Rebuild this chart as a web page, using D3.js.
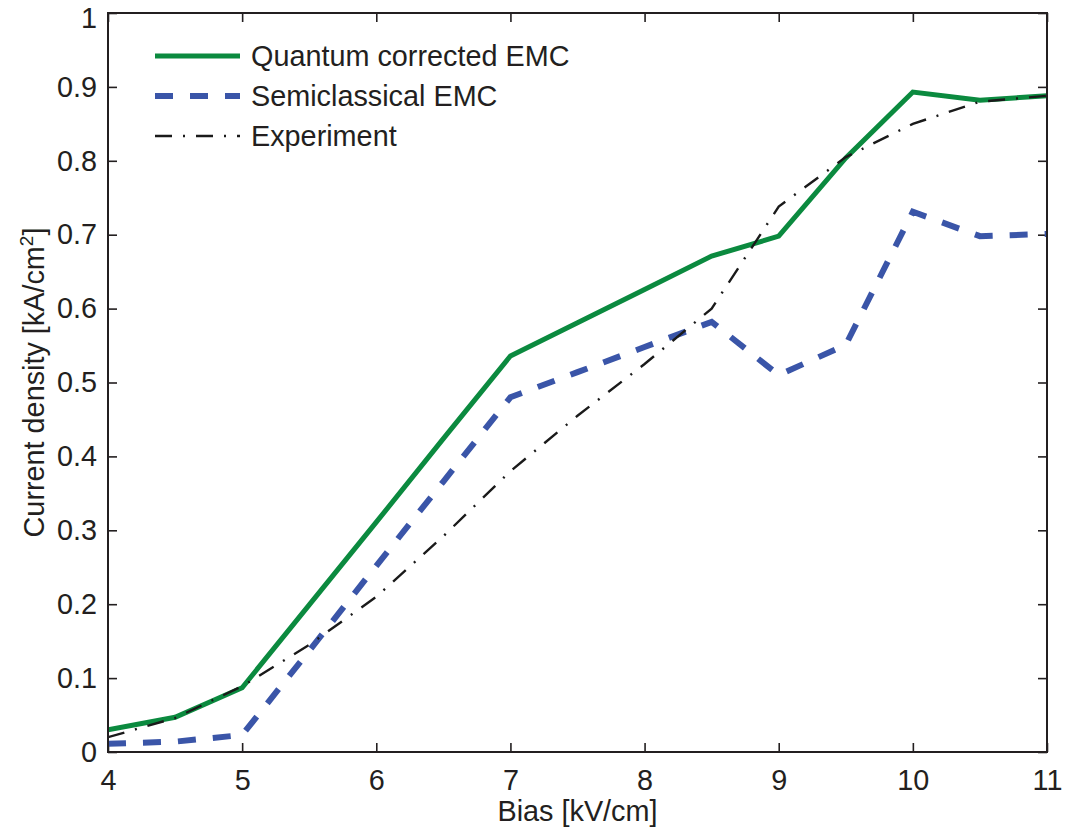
<!DOCTYPE html>
<html>
<head>
<meta charset="utf-8">
<script src="https://cdn.jsdelivr.net/npm/d3@7"></script>
<style>
  body { margin: 0; background: #fff; }
  svg { display: block; }
  text { font-family: "Liberation Sans", Arial, Helvetica, sans-serif; fill: #231f20; }
</style>
</head>
<body>
<svg id="chart" width="1069" height="832"></svg>
<script>
// Bias points [kV/cm]
const bias = [4, 4.5, 5, 5.5, 6, 6.5, 7, 7.5, 8, 8.5, 9, 9.5, 10, 10.5, 11];
// Current density [kA/cm^2]
const quantumEMC = [0.030, 0.047, 0.087, 0.199, 0.311, 0.424, 0.536, 0.581, 0.626, 0.671, 0.698, 0.804, 0.893, 0.882, 0.888];
const semiclassicalEMC = [0.011, 0.014, 0.023, 0.137, 0.252, 0.366, 0.480, 0.514, 0.548, 0.582, 0.510, 0.551, 0.731, 0.698, 0.701];
const experiment = [0.020, 0.046, 0.089, 0.145, 0.210, 0.292, 0.380, 0.455, 0.525, 0.600, 0.738, 0.805, 0.850, 0.880, 0.888];

const xTicks = [4, 5, 6, 7, 8, 9, 10, 11];
const yTicks = [0, 0.1, 0.2, 0.3, 0.4, 0.5, 0.6, 0.7, 0.8, 0.9, 1];

const seriesList = [
  { name: "Quantum corrected EMC", values: quantumEMC, color: "#0b8a3f", width: 5, dash: null },
  { name: "Semiclassical EMC", values: semiclassicalEMC, color: "#3a55a8", width: 6, dash: "18,17" },
  { name: "Experiment", values: experiment, color: "#1a1a1a", width: 2.4, dash: "17,11,2,11" }
];

const FS = 28.8;
const svg = d3.select("#chart");
const m = { left: 108, right: 1069 - 1047, top: 13, bottom: 832 - 752 };
const W = 1069 - m.left - m.right;
const H = 832 - m.top - m.bottom;

const x = d3.scaleLinear().domain([4, 11]).range([m.left, m.left + W]);
const y = d3.scaleLinear().domain([0, 1]).range([m.top + H, m.top]);

const tickLen = 9;
const fmtY = d => (d === 0 || d === 1) ? String(d) : d3.format(".1f")(d);

// axes with inward ticks on all four sides
const gx = svg.append("g").attr("transform", `translate(0,${m.top + H})`)
  .call(d3.axisBottom(x).tickValues(xTicks).tickSizeInner(-tickLen).tickSizeOuter(0).tickPadding(18).tickFormat(d3.format("d")));
const gxTop = svg.append("g").attr("transform", `translate(0,${m.top})`)
  .call(d3.axisTop(x).tickValues(xTicks).tickSizeInner(-tickLen).tickSizeOuter(0).tickFormat(""));
const gy = svg.append("g").attr("transform", `translate(${m.left},0)`)
  .call(d3.axisLeft(y).tickValues(yTicks).tickSizeInner(-tickLen).tickSizeOuter(0).tickPadding(11).tickFormat(fmtY));
const gyR = svg.append("g").attr("transform", `translate(${m.left + W},0)`)
  .call(d3.axisRight(y).tickValues(yTicks).tickSizeInner(-tickLen).tickSizeOuter(0).tickFormat(""));

[gx, gxTop, gy, gyR].forEach(g => {
  g.select(".domain").remove();
  g.selectAll(".tick line").attr("stroke", "#231f20").attr("stroke-width", 1.6);
  g.selectAll(".tick text").style("font-size", FS + "px").attr("fill", "#231f20");
});
gy.selectAll(".tick text").filter(d => d === 1).attr("dy", "0.5em");

// data lines
const line = d3.line().x((d, i) => x(bias[i])).y(d => y(d));
svg.append("clipPath").attr("id", "clip").append("rect")
  .attr("x", m.left).attr("y", m.top).attr("width", W).attr("height", H);
const lines = svg.append("g").attr("clip-path", "url(#clip)");
seriesList.forEach(s => {
  lines.append("path")
    .attr("d", line(s.values))
    .attr("fill", "none")
    .attr("stroke", s.color)
    .attr("stroke-width", s.width)
    .attr("stroke-dasharray", s.dash)
    .attr("stroke-linejoin", "miter");
});

// frame
svg.append("rect")
  .attr("x", m.left).attr("y", m.top).attr("width", W).attr("height", H)
  .attr("fill", "none").attr("stroke", "#231f20").attr("stroke-width", 2);

// legend
const legend = svg.append("g");
seriesList.forEach((s, i) => {
  const ly = 56 + i * 40;
  legend.append("line")
    .attr("x1", 155).attr("x2", 240).attr("y1", ly).attr("y2", ly)
    .attr("stroke", s.color).attr("stroke-width", s.width)
    .attr("stroke-dasharray", s.dash);
  legend.append("text")
    .attr("x", 251).attr("y", ly + 10)
    .style("font-size", FS + "px")
    .text(s.name);
});

// axis titles
svg.append("text")
  .attr("x", x(7.5)).attr("y", 821)
  .attr("text-anchor", "middle")
  .style("font-size", FS + "px")
  .text("Bias [kV/cm]");

const yl = svg.append("text")
  .attr("transform", `translate(44,${y(0.5)}) rotate(-90)`)
  .attr("text-anchor", "middle")
  .style("font-size", FS + "px");
yl.append("tspan").text("Current density [kA/cm");
yl.append("tspan").attr("dy", -11).style("font-size", "19px").text("2");
yl.append("tspan").attr("dy", 11).text("]");
</script>
</body>
</html>
